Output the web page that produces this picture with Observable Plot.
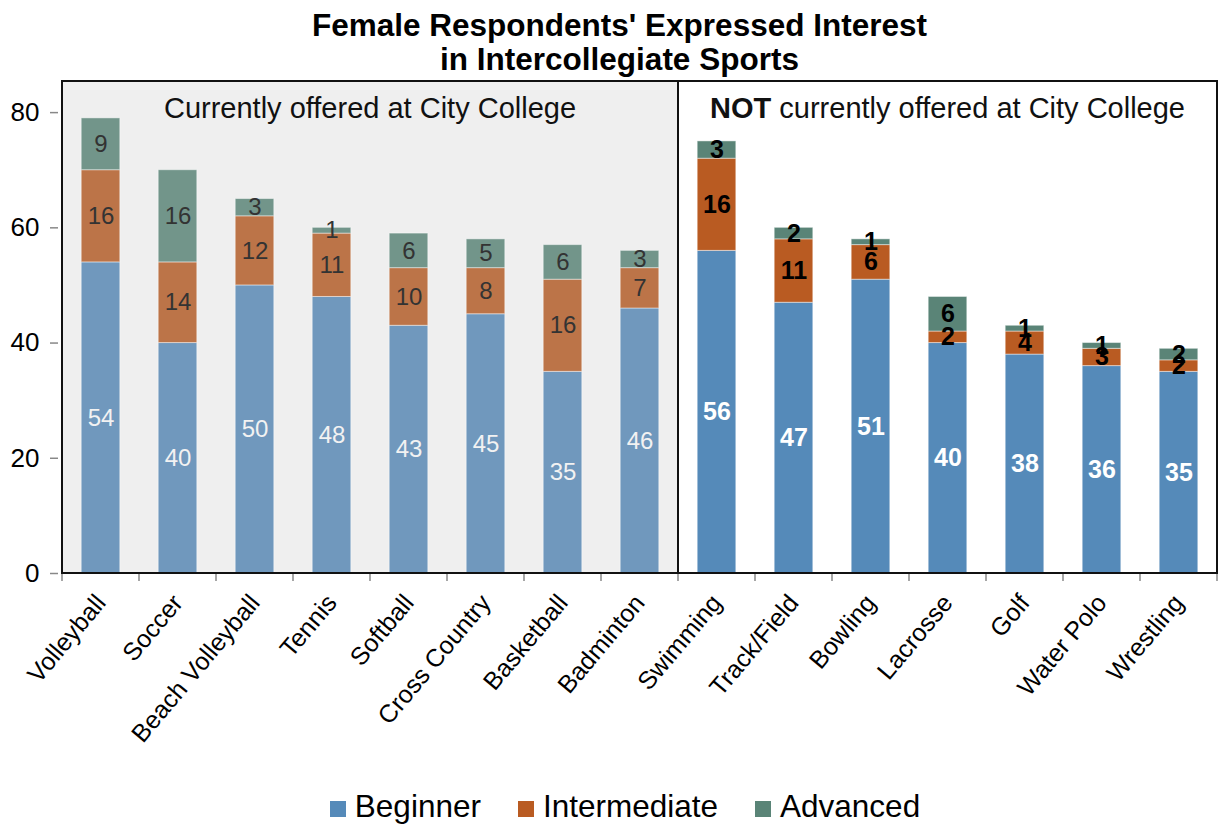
<!DOCTYPE html>
<html>
<head>
<meta charset="utf-8">
<script src="https://cdn.jsdelivr.net/npm/d3@7"></script>
<script src="https://cdn.jsdelivr.net/npm/@observablehq/plot@0.6"></script>
<style>
  html, body { margin: 0; padding: 0; background: #fff; overflow: hidden; }
  body { font-family: "Liberation Sans", Arial, sans-serif; width: 1225px; height: 824px; }
  #title { box-sizing: border-box; width: 1225px; height: 80px; padding: 8px 0 0 14px; text-align: center;
           font-weight: bold; font-size: 31.5px; line-height: 34px; color: #000; white-space: nowrap; }
  #chart { height: 700px; }
  #chart svg { display: block; }
  #legend { box-sizing: border-box; width: 1225px; height: 44px; padding: 4px 0 0 25px; text-align: center;
            font-size: 31.5px; line-height: 44px; color: #000; white-space: nowrap; }
  .item { display: inline-block; margin: 0 18.5px; }
  .sw { display: inline-block; width: 16px; height: 16px; margin-right: 9px; vertical-align: baseline; }
</style>
</head>
<body>
<div id="title">Female Respondents' Expressed Interest<br>in Intercollegiate Sports</div>
<div id="chart"></div>
<div id="legend"></div>
<script>
// ---- data ----
const offeredSports = ["Volleyball", "Soccer", "Beach Volleyball", "Tennis", "Softball", "Cross Country", "Basketball", "Badminton"];
const offeredBeginner = [54, 40, 50, 48, 43, 45, 35, 46];
const offeredIntermediate = [16, 14, 12, 11, 10, 8, 16, 7];
const offeredAdvanced = [9, 16, 3, 1, 6, 5, 6, 3];

const notOfferedSports = ["Swimming", "Track/Field", "Bowling", "Lacrosse", "Golf", "Water Polo", "Wrestling"];
const notOfferedBeginner = [56, 47, 51, 40, 38, 36, 35];
const notOfferedIntermediate = [16, 11, 6, 2, 4, 3, 2];
const notOfferedAdvanced = [3, 2, 1, 6, 1, 1, 2];

const levels = ["Beginner", "Intermediate", "Advanced"];
const yTicks = [0, 20, 40, 60, 80];
const offeredLabel = "Currently offered at City College";
const notOfferedLabelBold = "NOT";
const notOfferedLabelRest = " currently offered at City College";

// ---- styles ----
const palette = {
  offered:    {Beginner: "#7098bd", Intermediate: "#bc7448", Advanced: "#72958a"},
  notOffered: {Beginner: "#558ab9", Intermediate: "#b95b22", Advanced: "#5a8477"}
};
const yTop = 85.4;

function buildRows(panel, sports, series) {
  return sports.flatMap((s, i) => levels.map((lv, j) => ({panel, sport: s, level: lv, value: series[j][i]})));
}
const leftRows = buildRows("offered", offeredSports, [offeredBeginner, offeredIntermediate, offeredAdvanced]);
const rightRows = buildRows("notOffered", notOfferedSports, [notOfferedBeginner, notOfferedIntermediate, notOfferedAdvanced]);
const rows = leftRows.concat(rightRows);
const allSports = offeredSports.concat(notOfferedSports);
const panels = [
  {key: "offered", sports: offeredSports, fill: "#efefef"},
  {key: "notOffered", sports: notOfferedSports, fill: "none"}
];

function bandOf(x, dims) {
  return typeof x.bandwidth === "function" ? x.bandwidth()
    : (dims.width - dims.marginLeft - dims.marginRight) / allSports.length;
}

function panelBackground(index, scales, values, dims) {
  const x = scales.x;
  const bw = bandOf(x, dims);
  const top = dims.marginTop, bottom = dims.height - dims.marginBottom;
  const g = d3.create("svg:g");
  panels.forEach(p => {
    if (p.fill === "none") return;
    const x1 = x(p.sports[0]), x2 = x(p.sports[p.sports.length - 1]) + bw;
    g.append("rect").attr("x", x1).attr("y", top).attr("width", x2 - x1).attr("height", bottom - top)
      .attr("fill", p.fill);
  });
  return g.node();
}

function panelOverlay(index, scales, values, dims) {
  const x = scales.x;
  const bw = bandOf(x, dims);
  const top = dims.marginTop, bottom = dims.height - dims.marginBottom;
  const g = d3.create("svg:g");
  const bounds = allSports.map(s => x(s)).concat([x(allSports[allSports.length - 1]) + bw]);
  bounds.forEach(b => {
    g.append("line").attr("x1", b).attr("x2", b).attr("y1", bottom).attr("y2", bottom + 8)
      .attr("stroke", "#888").attr("stroke-width", 1.5);
  });
  panels.forEach(p => {
    const x1 = x(p.sports[0]), x2 = x(p.sports[p.sports.length - 1]) + bw;
    g.append("rect").attr("x", x1).attr("y", top).attr("width", x2 - x1).attr("height", bottom - top)
      .attr("fill", "none").attr("stroke", "#111").attr("stroke-width", 2);
    const t = g.append("text").attr("x", (x1 + x2) / 2).attr("y", top + 37)
      .attr("text-anchor", "middle").attr("font-size", 29).attr("fill", "#111")
      .attr("font-family", "Liberation Sans, Arial, sans-serif");
    if (p.key === "offered") {
      t.text(offeredLabel);
    } else {
      t.append("tspan").attr("font-weight", "bold").text(notOfferedLabelBold);
      t.append("tspan").text(notOfferedLabelRest);
    }
  });
  return g.node();
}

const chart = Plot.plot({
  width: 1225,
  height: 700,
  marginTop: 1,
  marginBottom: 207,
  marginLeft: 58,
  marginRight: 5,
  x: {domain: allSports, padding: 0, axis: null},
  y: {domain: [0, yTop], axis: null},
  color: {type: "identity"},
  style: {fontFamily: "Liberation Sans, Arial, sans-serif", background: "transparent", overflow: "visible"},
  marks: [
    panelBackground,
    Plot.barY(rows, Plot.stackY({
      x: "sport", y: "value", z: "level",
      fill: d => palette[d.panel][d.level],
      insetLeft: 19.2, insetRight: 19.2,
      stroke: "#ffffff", strokeOpacity: 0.45, strokeWidth: 1
    })),
    Plot.text(leftRows, Plot.stackY({
      x: "sport", y: "value", z: "level", text: "value",
      fill: d => d.level === "Beginner" ? "#f2f2f2" : "#333",
      fontSize: 24
    })),
    Plot.text(rightRows, Plot.stackY({
      x: "sport", y: "value", z: "level", text: "value",
      fill: d => d.level === "Beginner" ? "#ffffff" : "#000",
      fontSize: 25, fontWeight: "bold"
    })),
    panelOverlay,
    Plot.axisY({ticks: yTicks, label: null, tickSize: 8, tickPadding: 11, stroke: "#888", strokeWidth: 1.5, fill: "#000", fontSize: 26}),
    Plot.text(allSports, {
      x: d => d, frameAnchor: "bottom", rotate: -50, textAnchor: "end",
      dx: 6, dy: 30, fontSize: 25, fill: "#000"
    })
  ]
});
document.getElementById("chart").appendChild(chart);

// legend
const legend = document.getElementById("legend");
levels.forEach(lv => {
  const item = document.createElement("span");
  item.className = "item";
  const sw = document.createElement("span");
  sw.className = "sw";
  sw.style.background = palette.notOffered[lv];
  item.appendChild(sw);
  item.appendChild(document.createTextNode(lv));
  legend.appendChild(item);
});
</script>
</body>
</html>
